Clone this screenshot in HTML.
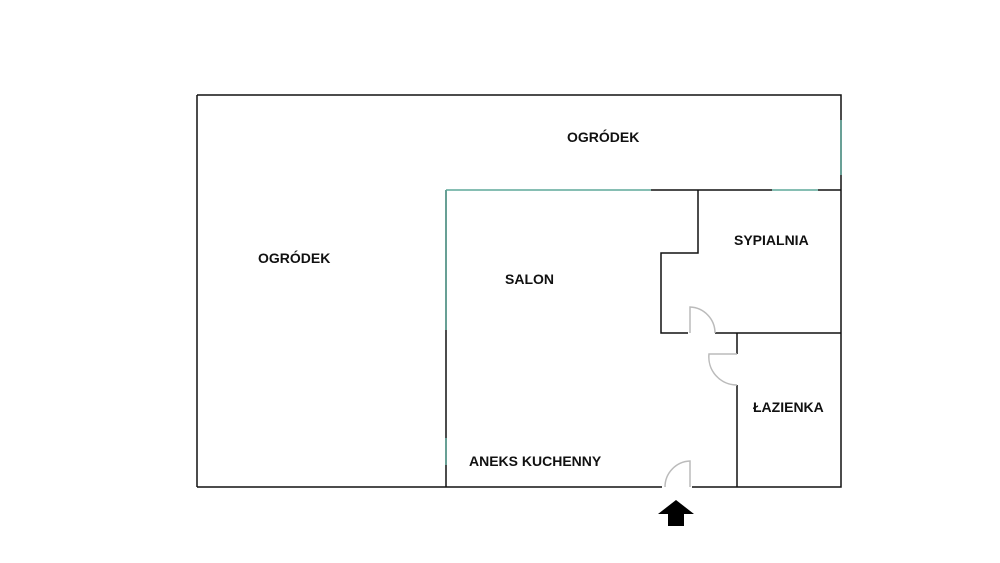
<!DOCTYPE html>
<html><head><style>
html,body{margin:0;padding:0;background:#fff;width:1000px;height:563px;overflow:hidden}
text{font-family:"Liberation Sans",sans-serif;font-weight:bold;font-size:14px;fill:#111}
</style></head><body>
<svg width="1000" height="563" viewBox="0 0 1000 563" xmlns="http://www.w3.org/2000/svg">
<g stroke="#111" stroke-width="1.5" fill="none">
<path d="M197 95 H841 V487 H692 M662 487 H197 Z" />
<path d="M197 95 V487"/>
<path d="M446 190 V487"/>
<path d="M651 190 H772 M818 190 H841"/>
<path d="M698 190 V253 H661 V333 H688 M715 333 H841"/>
<path d="M737 333 V354 M737 385 V487"/>
</g>
<g stroke="#5fa89a" stroke-width="1.5" fill="none">
<path d="M446 190 H651 M772 190 H818"/>
<path d="M446 190 V330 M446 438 V465"/>
<path d="M841 120 V175"/>
</g>
<g stroke="#bbb" stroke-width="1.5" fill="none">
<path d="M690 333 V307 A26 26 0 0 1 715 333"/>
<path d="M737 354 H709 A28 28 0 0 0 737 385"/>
<path d="M690 487 V461 A26 26 0 0 0 665 487"/>
</g>
<path d="M676 500 L694 514 H684 V526 H668 V514 H658 Z" fill="#000"/>
<text x="567" y="142">OGRÓDEK</text>
<text x="258" y="263">OGRÓDEK</text>
<text x="505" y="284">SALON</text>
<text x="734" y="245">SYPIALNIA</text>
<text x="753" y="412">ŁAZIENKA</text>
<text x="469" y="466">ANEKS KUCHENNY</text>
</svg>
</body></html>
